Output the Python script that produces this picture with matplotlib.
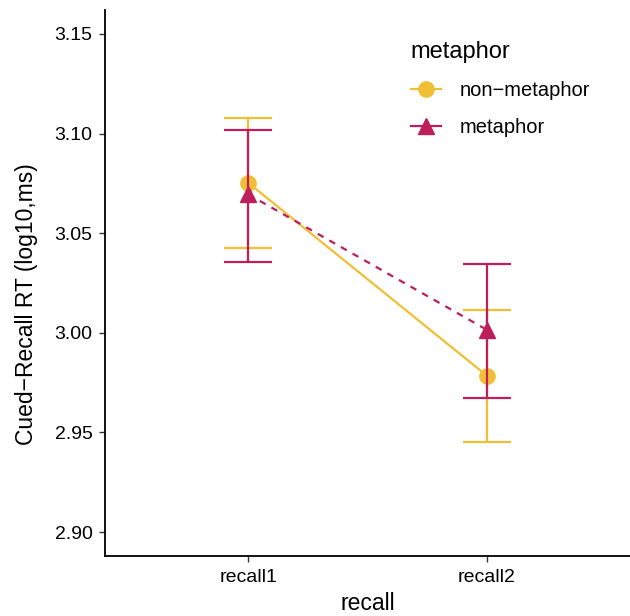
import matplotlib
matplotlib.use("Agg")
import matplotlib.pyplot as plt
from matplotlib.lines import Line2D

plt.rcParams['font.family'] = ['Liberation Sans', 'DejaVu Sans']

categories = ["recall1", "recall2"]
groups = ["non\u2212metaphor", "metaphor"]
means_nonmet = [3.0753, 2.9785]
lower_nonmet = [3.0425, 2.9450]
upper_nonmet = [3.1080, 3.0115]
means_met = [3.0695, 3.0015]
lower_met = [3.0355, 2.9675]
upper_met = [3.1020, 3.0345]
yticks = [2.90, 2.95, 3.00, 3.05, 3.10, 3.15]

col_non = "#F0BF35"
col_met = "#BD1F5C"

fig = plt.figure(figsize=(6.3, 6.16), dpi=100)
ax = fig.add_axes([0.1667, 0.0974, 0.8333, 0.8864])

x = list(range(1, len(categories) + 1))

def draw(means, lo, hi, color, marker, ls, ms, z):
    yerr = [[m - l for m, l in zip(means, lo)], [h - m for m, h in zip(means, hi)]]
    ax.errorbar(x, means, yerr=yerr, fmt='none', ecolor=color, elinewidth=1.6,
                capsize=17, capthick=1.6, zorder=z)
    ax.plot(x, means, color=color, lw=1.6, ls=ls, zorder=z + 0.1)
    ax.plot(x, means, color=color, lw=0, marker=marker, ms=ms, zorder=z + 0.2)

draw(means_nonmet, lower_nonmet, upper_nonmet, col_non, 'o', (0, ()), 11, 2)
draw(means_met, lower_met, upper_met, col_met, '^', (0, (3, 3)), 12, 3)

ax.set_xlim(0.4, 2.6)
ax.set_ylim(2.888, 3.162)
ax.set_xticks(x)
ax.set_xticklabels(categories)
ax.set_yticks(yticks)
ax.set_yticklabels([f"{v:.2f}" for v in yticks])
ax.tick_params(axis='both', labelsize=14, colors='#333333', length=4, width=1,
               labelcolor='black')
ax.tick_params(axis='x', pad=5)
ax.tick_params(axis='y', pad=5)
for s in ['top', 'right']:
    ax.spines[s].set_visible(False)
for s in ['left', 'bottom']:
    ax.spines[s].set_linewidth(1.3)
    ax.spines[s].set_color('black')

ax.set_xlabel("recall", fontsize=16.5, labelpad=5)
ax.set_ylabel("Cued\u2212Recall RT (log10,ms)", fontsize=16.5)
ax.yaxis.set_label_coords(-0.128, 0.462)

handles = [
    Line2D([0], [0], color=col_non, lw=1.6, marker='o', ms=11),
    Line2D([0], [0], color=col_met, lw=1.6, marker='^', ms=12),
]
leg = fig.legend(handles, groups, title="metaphor", loc='upper left',
                 bbox_to_anchor=(0.652, 0.934), bbox_transform=fig.transFigure,
                 frameon=False, fontsize=14.5, title_fontsize=17,
                 handlelength=1.5, labelspacing=0.9, handletextpad=0.95,
                 borderpad=0, borderaxespad=0)
leg._legend_box.align = "left"

fig.savefig("out.png", dpi=100)
